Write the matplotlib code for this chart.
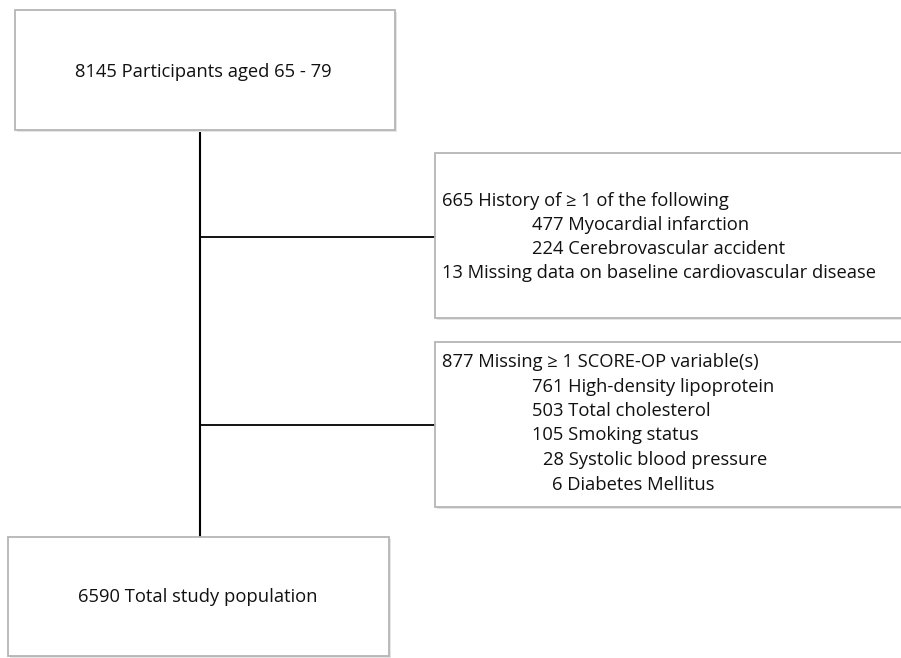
import matplotlib.pyplot as plt
from matplotlib.patches import Rectangle

plt.rcParams['font.family'] = ['Open Sans', 'DejaVu Sans']

# Text content
top_label = "8145 Participants aged 65 - 79"
bottom_label = "6590 Total study population"

excl1_lines = ["665 History of \u2265 1 of the following",
               "477 Myocardial infarction",
               "224 Cerebrovascular accident",
               "13 Missing data on baseline cardiovascular disease"]
excl1_indent = [0, 90, 90, 0]

excl2_lines = ["877 Missing \u2265 1 SCORE-OP variable(s)",
               "761 High-density lipoprotein",
               "503 Total cholesterol",
               "105 Smoking status",
               "28 Systolic blood pressure",
               "6 Diabetes Mellitus"]
excl2_indent = [0, 90, 90, 90, 101, 110]

fig = plt.figure(figsize=(9.01, 6.58), dpi=100)
ax = fig.add_axes([0, 0, 1, 1])
ax.set_xlim(0, 901)
ax.set_ylim(658, 0)
ax.axis('off')

def box(x, y, w, h):
    ax.add_patch(Rectangle((x + 2, y + 2), w, h, facecolor='#e6e6e6', edgecolor='none', zorder=1))
    ax.add_patch(Rectangle((x, y), w, h, facecolor='white', edgecolor='#b5b5b5', lw=1.3, zorder=2))

# boxes
box(15, 10, 380, 120)
box(8, 537, 381, 119)
box(435, 153, 470, 165)
box(435, 342, 470, 165)

# connectors
ax.plot([200, 200], [130, 537], color='black', lw=1.5, zorder=0)
ax.plot([200, 435], [237, 237], color='black', lw=1.3, zorder=0)
ax.plot([200, 435], [425, 425], color='black', lw=1.3, zorder=0)

fs = 13.2
ax.text(203, 72, top_label, ha='center', va='center', fontsize=fs, color='#111111', zorder=3)
ax.text(198, 597, bottom_label, ha='center', va='center', fontsize=fs, color='#111111', zorder=3)

for i, (line, ind) in enumerate(zip(excl1_lines, excl1_indent)):
    ax.text(442 + ind, 201 + i * 24, line, ha='left', va='center', fontsize=fs, color='#111111', zorder=3)

for i, (line, ind) in enumerate(zip(excl2_lines, excl2_indent)):
    ax.text(442 + ind, 362 + i * 24.5, line, ha='left', va='center', fontsize=fs, color='#111111', zorder=3)

fig.savefig("out.png", dpi=100)
